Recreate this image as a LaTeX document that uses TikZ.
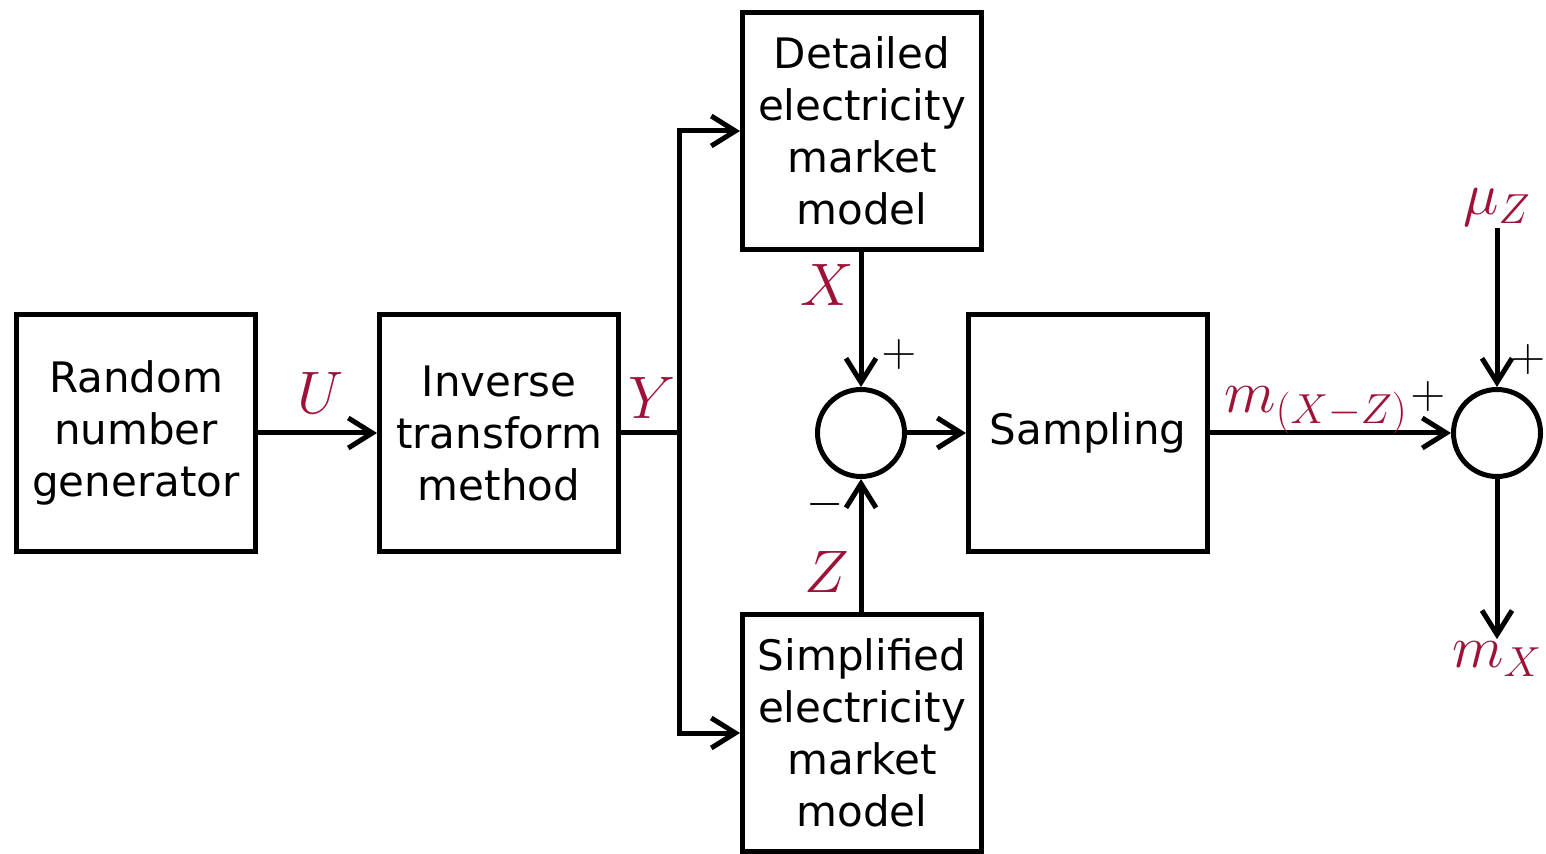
\RequirePackage{fix-cm}
\documentclass[tikz,border=0pt]{standalone}
\usepackage{fontspec}
\setmainfont{DejaVu Sans}
\usetikzlibrary{arrows.meta}
\definecolor{sigred}{RGB}{158,18,56}
\tikzset{
  blk/.style={draw, line width=2.5pt, minimum width=119.5pt, minimum height=118.5pt,
              align=center, inner sep=0pt, font=\fontsize{21}{26}\selectfont},
  sumnode/.style={draw, circle, line width=2.5pt, minimum size=43.5pt, inner sep=0pt},
  wire/.style={line width=2.5pt},
  arr/.style={wire, -{Straight Barb[length=12pt,width=15pt,line width=2.5pt]}},
  sig/.style={text=sigred, inner sep=1pt, font=\fontsize{30}{33}\selectfont},
  sgn/.style={inner sep=0pt, font=\fontsize{24}{26}\selectfont},
}
\begin{document}
\begin{tikzpicture}[x=0.5pt, y=-0.5pt]
\useasboundingbox (0,0) rectangle (1546,854);

% blocks
\node[blk] (rng)  at (136,433) {Random\\number\\generator};
\node[blk] (itm)  at (499,433) {Inverse\\transform\\method};
\node[blk] (det)  at (862,131) {Detailed\\electricity\\market\\model};
\node[blk] (simp) at (862,733) {Simplified\\electricity\\market\\model};
\node[blk] (samp) at (1088,433) {Sampling};

% summing junctions
\node[sumnode] (sum1) at (861,433) {};
\node[sumnode] (sum2) at (1497,433) {};

% signal flow
\coordinate (br) at (679,433);
\draw[arr] (rng.east) -- (itm.west);
\draw[wire] (itm.east) -- (br);
\draw[arr] (br) |- (det.west);
\draw[arr] (br) |- (simp.west);
\draw[arr] (det.south -| sum1) -- (sum1.north);
\draw[arr] (simp.north -| sum1) -- (sum1.south);
\draw[arr] (sum1.east) -- (samp.west);
\draw[arr] (samp.east) -- (sum2.west);

\node[sig] (muz) at (1497,207) {$\mu_Z$};
\node[sig] (mx)  at (1497,659) {$m_X$};
\draw[arr] (muz.south) -- (sum2.north);
\draw[arr] (sum2.south) -- (mx.north);

% signal names
\node[sig] (lu) at (321,393) {$U$};
\node[sig] (ly) at (652,398) {$Y$};
\node[sig] (lx) at (827,285) {$X$};
\node[sig] (lz) at (827,572) {$Z$};
\node[sig, anchor=base west, inner sep=0pt] (lm) at (1224,413) {$m_{(X-Z)}$};

% signs at the junctions
\node[sgn] (p1) at (899,355) {$+$};
\node[sgn] (n1) at (825,505) {$-$};
\node[sgn] (p2) at (1428,397) {$+$};
\node[sgn] (p3) at (1528,360) {$+$};
\end{tikzpicture}
\end{document}
